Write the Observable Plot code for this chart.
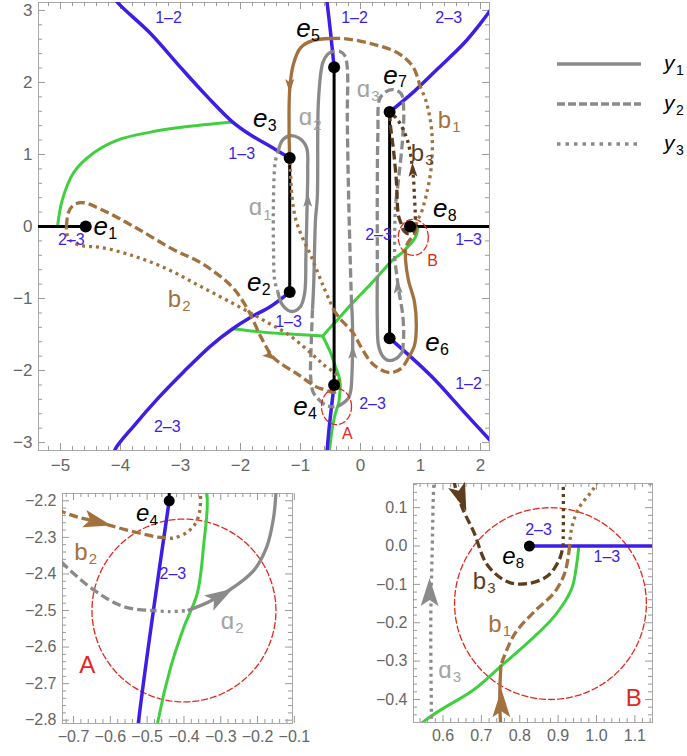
<!DOCTYPE html>
<html><head><meta charset="utf-8">
<script src="https://cdn.jsdelivr.net/npm/d3@7"></script>
<script src="https://cdn.jsdelivr.net/npm/@observablehq/plot@0.6"></script>
<style>
body{margin:0;background:#fff;}
#wrap{position:relative;width:687px;height:756px;overflow:hidden;background:#fff;font-family:"Liberation Sans",Arial,sans-serif;}
.panel{position:absolute;}
.panel svg{background:transparent;overflow:visible;}
</style></head><body><div id="wrap">
<div class="panel" id="main" style="left:0;top:0;width:500px;height:480px"></div>
<div class="panel" id="pa" style="left:0;top:480px;width:305px;height:276px"></div>
<div class="panel" id="pb" style="left:360px;top:470px;width:310px;height:286px"></div>
<svg id="legend" style="position:absolute;left:540px;top:40px" width="147" height="130" font-family="Liberation Sans, Arial, sans-serif">
 <line x1="17" x2="101" y1="24" y2="24" stroke="#8a8a8a" stroke-width="3.5"/>
 <line x1="17" x2="101" y1="64" y2="64" stroke="#8a8a8a" stroke-width="3.5" stroke-dasharray="8,3"/>
 <line x1="17" x2="101" y1="104" y2="104" stroke="#8a8a8a" stroke-width="3.5" stroke-dasharray="3.5,5"/>
 <text x="124" y="30" font-size="21" font-style="italic">y</text><text x="136" y="35" font-size="14">1</text>
 <text x="124" y="70" font-size="21" font-style="italic">y</text><text x="136" y="75" font-size="14">2</text>
 <text x="124" y="110" font-size="21" font-style="italic">y</text><text x="136" y="115" font-size="14">3</text>
</svg>
</div>
<script>
// ---------------- DATA ----------------
// tick labels
const mainXTicks = [-5,-4,-3,-2,-1,0,1,2];
const mainYTicks = [-3,-2,-1,0,1,2,3];
const aXTicks = [-0.7,-0.6,-0.5,-0.4,-0.3,-0.2,-0.1];
const aYTicks = [-2.2,-2.3,-2.4,-2.5,-2.6,-2.7,-2.8];
const bXTicks = [0.6,0.7,0.8,0.9,1.0,1.1];
const bYTicks = [0.1,0.0,-0.1,-0.2,-0.3,-0.4];

// branch points e1..e8
const branchPoints = [
  {k:"1",x:-4.58,y:0},{k:"2",x:-1.18,y:-0.91},{k:"3",x:-1.18,y:0.95},{k:"4",x:-0.44,y:-2.2},
  {k:"5",x:-0.44,y:2.21},{k:"6",x:0.485,y:-1.55},{k:"7",x:0.485,y:1.59},{k:"8",x:0.825,y:0}
];
const branchLabels = [
  {k:"1",x:-4.33,y:0.0},{k:"2",x:-1.77,y:-0.78},{k:"3",x:-1.67,y:1.5},{k:"4",x:-1.0,y:-2.5},
  {k:"5",x:-0.95,y:2.74},{k:"6",x:1.2,y:-1.61},{k:"7",x:0.5,y:2.1},{k:"8",x:1.33,y:0.25}
];

// branch cuts (black)
const cutLeft = [[-5.5,0],[-4.58,0]];
const cut32 = [[-1.18,0.95],[-1.18,-0.91]];
const cut54 = [[-0.44,2.21],[-0.44,-2.2]];
const cut76 = [[0.485,1.59],[0.485,-1.55]];
const cut8 = [[0.825,0],[2.3,0]];

// blue lines
const blueTL = [[-4.12,3.2],[-4.05,3.11],[-3.5,2.68],[-3.0,2.21],[-2.55,1.80],[-2.13,1.45],[-1.83,1.27],[-1.5,1.11],[-1.18,0.95]];
const blueTop = [[-0.44,2.21],[-0.5,2.7],[-0.57,3.2]];
const blueTR = [[0.485,1.59],[0.9,1.88],[1.3,2.2],[1.72,2.54],[2.0,2.82],[2.25,3.1]];
const blueBR = [[0.485,-1.55],[1.17,-2.07],[1.72,-2.57],[2.25,-3.05]];
const blueBL = [[-4.13,-3.2],[-4.08,-3.08],[-3.78,-2.77],[-3.38,-2.39],[-2.95,-2.02],[-2.5,-1.66],[-2.13,-1.42],[-1.83,-1.26],[-1.5,-1.11],[-1.18,-0.91]];
const blueBot = [[-0.44,-2.2],[-0.523,-2.8],[-0.565,-3.2]];
const blue8 = [[0.825,0],[1.2,0]];

// green lines
const greenTL = [[-5.05,0],[-4.97,0.37],[-4.78,0.75],[-4.45,1.02],[-4.05,1.2],[-3.5,1.31],[-2.95,1.38],[-2.13,1.45]];
const greenL = [[-2.13,-1.42],[-1.6,-1.47],[-1.05,-1.5],[-0.63,-1.52]];
const greenR = [[-0.63,-1.52],[-0.38,-1.29],[-0.12,-1.05],[0.17,-0.8],[0.55,-0.457],[0.681,-0.374],[0.751,-0.313],[0.821,-0.252],[0.891,-0.182],[0.935,-0.112],[0.948,-0.05],[0.954,0]];
const greenD = [[-0.63,-1.52],[-0.5,-1.75],[-0.42,-1.94],[-0.36,-2.08],[-0.337,-2.19],[-0.346,-2.317],[-0.364,-2.454],[-0.40,-2.545],[-0.436,-2.655],[-0.47,-2.8],[-0.53,-3.2]];

// gray paths a1, a2, a3
const a1Solid = [[-1.38,-0.9],[-1.3,-1.09],[-1.15,-1.18],[-1.0,-1.11],[-0.93,-0.92],[-0.91,-0.4],[-0.89,0.3],[-0.88,0.8],[-0.9,1.1],[-1.03,1.23],[-1.17,1.26],[-1.3,1.2],[-1.37,1.05]];
const a1Dotted = [[-1.37,1.05],[-1.42,0.9],[-1.45,0.4],[-1.45,-0.3],[-1.43,-0.75],[-1.38,-0.9]];
const a2SolidR = [[-0.39,-2.5],[-0.32,-2.47],[-0.21,-2.39],[-0.175,-2.326],[-0.157,-2.25],[-0.15,-2.18],[-0.14,-2.0],[-0.13,-1.6],[-0.14,-1.2],[-0.15,-1.07]];
const a2DashedR = [[-0.15,-1.07],[-0.17,-0.5],[-0.2,0.5],[-0.22,1.5],[-0.22,2.2],[-0.26,2.37],[-0.34,2.43],[-0.465,2.43]];
const a2SolidL = [[-0.465,2.43],[-0.55,2.39],[-0.63,2.27],[-0.7,1.76],[-0.72,0.4],[-0.75,0.1],[-0.78,-0.8],[-0.8,-1.15]];
const a2DashedL = [[-0.8,-1.15],[-0.82,-1.6],[-0.83,-2.1],[-0.79,-2.3],[-0.728,-2.372],[-0.643,-2.445],[-0.562,-2.49],[-0.482,-2.5]];
const a2Dotted = [[-0.482,-2.5],[-0.44,-2.503],[-0.39,-2.5]];
const a3DashedTop = [[0.59,0.35],[0.64,0.7],[0.7,1.2],[0.72,1.6],[0.68,1.84],[0.55,1.9],[0.42,1.87],[0.32,1.77],[0.29,1.3],[0.28,0.5],[0.28,-0.2],[0.28,-0.7]];
const a3SolidBot = [[0.28,-0.7],[0.28,-1.3],[0.3,-1.65],[0.37,-1.8],[0.47,-1.86],[0.6,-1.83],[0.7,-1.74]];
const a3DashedR = [[0.7,-1.74],[0.72,-1.5],[0.7,-1.2],[0.64,-0.9],[0.6,-0.65],[0.57,-0.45]];
const a3Dotted = [[0.57,-0.45],[0.568,-0.2],[0.572,0.0],[0.576,0.16],[0.59,0.35]];

// brown paths b1, b2 and dark brown b3
const b1SolidTop = [[-1.18,0.95],[-1.19,1.3],[-1.18,1.9],[-1.12,2.25],[-1.0,2.48],[-0.8,2.58],[-0.49,2.61]];
const b1DashedTop = [[-0.49,2.61],[-0.28,2.61],[0.17,2.54],[0.62,2.41],[0.88,2.21],[0.99,1.95]];
const b1DottedR = [[0.99,1.95],[1.1,1.72],[1.19,1.3],[1.18,0.83],[1.1,0.45],[1.0,0.163],[0.953,0.097],[0.935,0.045],[0.93,0]];
const b1DashedB = [[0.93,0],[0.918,-0.068],[0.891,-0.12],[0.839,-0.17],[0.786,-0.23],[0.751,-0.31]];
const b1SolidR = [[0.751,-0.31],[0.75,-0.46],[0.8,-0.75],[0.9,-1.05],[0.93,-1.4],[0.9,-1.65],[0.8,-1.82]];
const b1DashedBot = [[0.8,-1.82],[0.68,-1.97],[0.5,-2.03],[0.32,-1.98],[0.17,-1.88],[0.0,-1.66],[-0.12,-1.48],[-0.33,-1.29],[-0.44,-1.17]];
const b1DottedL = [[-0.44,-1.17],[-0.62,-0.83],[-0.83,-0.4],[-0.97,-0.15],[-1.08,0.1],[-1.14,0.4],[-1.17,0.8],[-1.18,0.95]];
const b2Dashed = [[-4.9,0],[-4.87,0.19],[-4.78,0.3],[-4.62,0.33],[-4.33,0.24],[-3.78,0.0],[-3.12,-0.32],[-2.67,-0.5],[-2.15,-0.83],[-1.88,-1.15],[-1.65,-1.55],[-1.45,-1.82],[-1.05,-2.05],[-0.73,-2.23],[-0.634,-2.258],[-0.535,-2.285],[-0.472,-2.299],[-0.457,-2.3]];
const b2Dotted = [[-0.457,-2.3],[-0.43,-2.302],[-0.39,-2.285],[-0.365,-2.255],[-0.355,-2.2],[-0.37,-2.1],[-0.45,-2.02],[-0.6,-1.93],[-0.72,-1.84],[-1.17,-1.52],[-1.62,-1.3],[-2.1,-1.08],[-2.67,-0.83],[-3.22,-0.59],[-3.78,-0.41],[-4.33,-0.29],[-4.62,-0.27],[-4.83,-0.2],[-4.9,-0.08],[-4.9,0]];
const b3Dashed = [[0.485,1.59],[0.5,1.4],[0.55,1.06],[0.6,0.6],[0.615,0.3],[0.629,0.167],[0.65,0.1],[0.68,0.037],[0.716,-0.05],[0.77,-0.094],[0.82,-0.098],[0.874,-0.077],[0.904,-0.033],[0.913,0]];
const b3Dotted = [[0.913,0],[0.913,0.167],[0.9,0.4],[0.87,0.79],[0.78,1.2],[0.62,1.48],[0.485,1.59]];

// red circles: centre and radius
const circleA = {cx:-0.4, cy:-2.5, r:0.25};
const circleB = {cx:0.88, cy:-0.15, r:0.25};

// arrowheads: position + direction
const mainArrows = [
  {c:"gray",x:-0.88,y:0.37,dx:0,dy:1},{c:"gray",x:-0.13,y:-1.74,dx:0,dy:1},{c:"gray",x:0.62,y:-0.83,dx:-0.1,dy:1},
  {c:"brown",x:-1.18,y:1.95,dx:0,dy:-1},{c:"brown",x:-1.5,y:-1.8,dx:1,dy:-0.6},{c:"dark",x:0.87,y:0.79,dx:-0.05,dy:1}
];
const aArrows = [{c:"brown",x:-0.634,y:-2.258,dx:1,dy:-0.25},{c:"gray",x:-0.30,y:-2.46,dx:1,dy:0.6}];
const bArrows = [{c:"gray",x:0.565,y:-0.12,dx:0,dy:1},{c:"brown",x:0.752,y:-0.41,dx:0,dy:1},{c:"dark",x:0.648,y:0.125,dx:0.37,dy:-1}];

// text labels
const mainEdgeLabels = [
  {t:"1–2",x:-3.2,y:2.9},{t:"1–3",x:-1.98,y:1.01},{t:"2–3",x:-4.82,y:-0.18},{t:"1–2",x:-0.1,y:2.89},
  {t:"2–3",x:1.47,y:2.9},{t:"2–3",x:-3.22,y:-2.78},{t:"1–3",x:-1.2,y:-1.33},{t:"2–3",x:0.2,y:-2.46},
  {t:"1–2",x:1.8,y:-2.18},{t:"2–3",x:0.3,y:-0.11},{t:"1–3",x:1.8,y:-0.18}
];
const mainPathLabels = [
  {t:"ɑ",s:"1",c:"lgray",x:-1.75,y:0.26},{t:"ɑ",s:"2",c:"lgray",x:-0.92,y:1.51},{t:"ɑ",s:"3",c:"lgray",x:0.05,y:1.9},
  {t:"b",s:"1",c:"brown",x:1.4,y:1.48},{t:"b",s:"2",c:"brown",x:-3.1,y:-1.01},{t:"b",s:"3",c:"dark",x:0.95,y:1.02}
];
const mainRegionLabels = [{t:"A",x:-0.22,y:-2.88},{t:"B",x:1.2,y:-0.48}];
const aLabels = {e:{k:"4",x:-0.512,y:-2.233}, path:[{t:"b",s:"2",c:"brown",x:-0.68,y:-2.34},{t:"ɑ",s:"2",c:"lgray",x:-0.282,y:-2.53}], edge:[{t:"2–3",x:-0.43,y:-2.4}], region:{t:"A",x:-0.663,y:-2.65}};
const bLabels = {e:{k:"8",x:0.772,y:-0.027}, path:[{t:"b",s:"3",c:"dark",x:0.695,y:-0.091},{t:"b",s:"1",c:"brown",x:0.735,y:-0.203},{t:"ɑ",s:"3",c:"lgray",x:0.605,y:-0.324}], edge:[{t:"2–3",x:0.849,y:0.041},{t:"1–3",x:1.027,y:-0.027}], region:{t:"B",x:1.097,y:-0.398}};

// ---------------- DRAWING ----------------
const COL = {blue:"#3c1ee6", green:"#3fcf3f", gray:"#8a8a8a", lgray:"#a3a3a3", brown:"#a3713d", dark:"#5e3d1e", red:"#e4261b", black:"#000"};
const FONT = "Liberation Sans, Arial, sans-serif";
const DASH = {solid: undefined, dashed: "9,4", dotted: "3,4"};

function L(pts, color, style, width) {
  return Plot.line(pts, {x: d => d[0], y: d => d[1], stroke: COL[color], strokeWidth: width,
    strokeDasharray: DASH[style], strokeLinecap: "butt", strokeLinejoin: "round", curve: "catmull-rom", clip: true});
}
function circleMark(c) {
  const pts = d3.range(0, 361, 3).map(t => [c.cx + c.r * Math.cos(t * Math.PI / 180), c.cy + c.r * Math.sin(t * Math.PI / 180)]);
  return Plot.line(pts, {x: d => d[0], y: d => d[1], stroke: COL.red, strokeWidth: 1.3, strokeDasharray: "6,3", clip: true});
}
const head = {draw(ctx, l) { const w = l * 0.32; ctx.moveTo(0, -l); ctx.lineTo(w, 0); ctx.lineTo(0, -l * 0.22); ctx.lineTo(-w, 0); ctx.closePath(); }};
function arrows(list, kx, ky, len) {
  return list.map(a => Plot.vector([a], {x: "x", y: "y", length: len, shape: head, anchor: "middle",
    rotate: d => Math.atan2(d.dx * kx, d.dy * ky) * 180 / Math.PI, fill: COL[a.c], stroke: "none"}));
}
function frameTicks(xMaj, xMin, yMaj, yMin, fw, fh, majL, minL) {
  const c = "#9a9a9a";
  const out = [];
  for (const [t, l] of [[xMaj, majL], [xMin, minL]]) {
    out.push(Plot.ruleX(t, {x: d => d, insetTop: fh - l, stroke: c, strokeWidth: 1}));
    out.push(Plot.ruleX(t, {x: d => d, insetBottom: fh - l, stroke: c, strokeWidth: 1}));
  }
  for (const [t, l] of [[yMaj, majL], [yMin, minL]]) {
    out.push(Plot.ruleY(t, {y: d => d, insetRight: fw - l, stroke: c, strokeWidth: 1}));
    out.push(Plot.ruleY(t, {y: d => d, insetLeft: fw - l, stroke: c, strokeWidth: 1}));
  }
  return out;
}
function minors(lo, hi, step, majors) {
  const n = Math.round((hi - lo) / step);
  return d3.range(n + 1).map(i => +(lo + i * step).toFixed(4)).filter(v => !majors.some(m => Math.abs(m - v) < 1e-6));
}
function subText(data, size, subSize, dx, dy, italic) {
  return [
    Plot.text(data, {x: "x", y: "y", text: d => d.t, fill: d => COL[d.c], fontSize: size, fontStyle: italic ? "italic" : "normal", fontFamily: FONT}),
    Plot.text(data, {x: "x", y: "y", text: d => d.s, fill: d => COL[d.c], fontSize: subSize, dx, dy, fontFamily: FONT})
  ];
}
function eLabels(data, size, subSize, dx, dy) {
  return [
    Plot.text(data, {x: "x", y: "y", text: () => "e", fill: "black", fontSize: size, fontStyle: "italic", fontFamily: FONT}),
    Plot.text(data, {x: "x", y: "y", text: d => d.k, fill: "black", fontSize: subSize, dx, dy, fontFamily: FONT})
  ];
}

// ---- main panel ----
const mainX = [-5.367, 2.15], mainY = [-3.11, 3.11];
const mainFW = 451, mainFH = 448;
const mainMarks = [
  Plot.frame({stroke: "#a8a8a8"}),
  ...frameTicks(mainXTicks, minors(-5.2, 2.0, 0.2, mainXTicks), mainYTicks, minors(-3.0, 3.0, 0.2, mainYTicks), mainFW, mainFH, 7, 4),
  Plot.axisX(mainXTicks, {tickSize: 0, tickPadding: 8, tickFormat: d3.format(""), label: null, fontSize: 17, fill: "#666"}),
  Plot.axisY(mainYTicks, {tickSize: 0, tickPadding: 6, tickFormat: d3.format(""), label: null, fontSize: 17, fill: "#666"}),
  L(greenTL, "green", "solid", 3), L(greenL, "green", "solid", 3), L(greenR, "green", "solid", 3), L(greenD, "green", "solid", 3),
  L(blueTL, "blue", "solid", 3.5), L(blueTop, "blue", "solid", 3.5), L(blueTR, "blue", "solid", 3.5),
  L(blueBR, "blue", "solid", 3.5), L(blueBL, "blue", "solid", 3.5), L(blueBot, "blue", "solid", 3.5),
  L(cutLeft, "black", "solid", 3), L(cut32, "black", "solid", 3), L(cut54, "black", "solid", 3), L(cut76, "black", "solid", 3), L(cut8, "black", "solid", 3),
  L(a1Solid, "gray", "solid", 3.3), L(a1Dotted, "gray", "dotted", 3.3),
  L(a2SolidR, "gray", "solid", 3.3), L(a2DashedR, "gray", "dashed", 3.3), L(a2SolidL, "gray", "solid", 3.3), L(a2DashedL, "gray", "dashed", 3.3), L(a2Dotted, "gray", "dotted", 3.3),
  L(a3DashedTop, "gray", "dashed", 3.3), L(a3SolidBot, "gray", "solid", 3.3), L(a3DashedR, "gray", "dashed", 3.3), L(a3Dotted, "gray", "dotted", 3.3),
  L(b1SolidTop, "brown", "solid", 3.3), L(b1DashedTop, "brown", "dashed", 3.3), L(b1DottedR, "brown", "dotted", 3.3), L(b1DashedB, "brown", "dashed", 3.3),
  L(b1SolidR, "brown", "solid", 3.3), L(b1DashedBot, "brown", "dashed", 3.3), L(b1DottedL, "brown", "dotted", 3.3),
  L(b2Dashed, "brown", "dashed", 3.3), L(b2Dotted, "brown", "dotted", 3.3),
  L(b3Dashed, "dark", "dashed", 3.3), L(b3Dotted, "dark", "dotted", 3.3),
  circleMark(circleA), circleMark(circleB),
  ...arrows(mainArrows, 60, 72, 14),
  Plot.dot(branchPoints, {x: "x", y: "y", r: 6, fill: "black"}),
  ...eLabels(branchLabels, 26, 16, 12, 7),
  Plot.text(mainEdgeLabels, {x: "x", y: "y", text: "t", fill: COL.blue, fontSize: 16, fontFamily: FONT}),
  ...subText(mainPathLabels, 24, 15, 12, 7, false),
  Plot.text(mainRegionLabels, {x: "x", y: "y", text: "t", fill: COL.red, fontSize: 16, fontFamily: FONT})
];
document.getElementById("main").append(Plot.plot({
  width: 500, height: 480, marginLeft: 38, marginRight: 11, marginTop: 2, marginBottom: 30,
  x: {domain: mainX, axis: null}, y: {domain: mainY, axis: null},
  style: {fontFamily: FONT, fontSize: "17px", color: "#666", background: "transparent", overflow: "visible"},
  marks: mainMarks
}));

// ---- panel A ----
const aMarks = [
  Plot.frame({stroke: "#a8a8a8"}),
  ...frameTicks(aXTicks, minors(-0.72, -0.12, 0.02, aXTicks), aYTicks, minors(-2.8, -2.2, 0.02, aYTicks), 230, 230, 7, 4),
  Plot.axisX(aXTicks, {tickSize: 0, tickPadding: 7, tickFormat: d3.format(".1f"), label: null, fontSize: 16, fill: "#666"}),
  Plot.axisY(aYTicks, {tickSize: 0, tickPadding: 6, tickFormat: d3.format(".1f"), label: null, fontSize: 16, fill: "#666"}),
  circleMark(circleA),
  L(greenD, "green", "solid", 3),
  L(blueBot, "blue", "solid", 3.5),
  L(cut54, "black", "solid", 3),
  L(a2SolidR, "gray", "solid", 3.3), L(a2DashedL, "gray", "dashed", 3.3), L(a2Dotted, "gray", "dotted", 3.3),
  L(b2Dashed, "brown", "dashed", 3.3), L(b2Dotted, "brown", "dotted", 3.3),
  ...arrows(aArrows, 367, 367, 28),
  Plot.dot([branchPoints[3]], {x: "x", y: "y", r: 5.5, fill: "black"}),
  ...eLabels([aLabels.e], 24, 15, 11, 7),
  ...subText(aLabels.path, 24, 15, 12, 7, false),
  Plot.text(aLabels.edge, {x: "x", y: "y", text: "t", fill: COL.blue, fontSize: 16, fontFamily: FONT}),
  Plot.text([aLabels.region], {x: "x", y: "y", text: "t", fill: COL.red, fontSize: 24, fontFamily: FONT})
];
document.getElementById("pa").append(Plot.plot({
  width: 305, height: 276, marginLeft: 62, marginRight: 13, marginTop: 13, marginBottom: 33,
  x: {domain: [-0.73, -0.105], axis: null}, y: {domain: [-2.809, -2.18], axis: null},
  style: {fontFamily: FONT, fontSize: "16px", color: "#666", background: "transparent", overflow: "visible"},
  marks: aMarks
}));

// ---- panel B ----
const bMarks = [
  Plot.frame({stroke: "#a8a8a8"}),
  ...frameTicks(bXTicks, minors(0.54, 1.14, 0.02, bXTicks), bYTicks, minors(-0.44, 0.16, 0.02, bYTicks), 239, 239, 7, 4),
  Plot.axisX(bXTicks, {tickSize: 0, tickPadding: 7, tickFormat: d3.format(".1f"), label: null, fontSize: 16, fill: "#666"}),
  Plot.axisY(bYTicks, {tickSize: 0, tickPadding: 6, tickFormat: d3.format(".1f"), label: null, fontSize: 16, fill: "#666"}),
  circleMark(circleB),
  L(greenR, "green", "solid", 3),
  L([[0.825,0],[1.2,0]], "blue", "solid", 3.5),
  L(a3Dotted, "gray", "dotted", 3.3),
  L(b1DashedB, "brown", "dashed", 3.3), L(b1DottedR, "brown", "dotted", 3.3), L(b1SolidR, "brown", "solid", 3.3),
  L(b3Dashed, "dark", "dashed", 3.3), L(b3Dotted, "dark", "dotted", 3.3),
  ...arrows(bArrows, 384, 384, 28),
  Plot.dot([branchPoints[7]], {x: "x", y: "y", r: 5.5, fill: "black"}),
  ...eLabels([bLabels.e], 24, 15, 11, 7),
  ...subText(bLabels.path, 24, 15, 12, 7, false),
  Plot.text(bLabels.edge, {x: "x", y: "y", text: "t", fill: COL.blue, fontSize: 16, fontFamily: FONT}),
  Plot.text([bLabels.region], {x: "x", y: "y", text: "t", fill: COL.red, fontSize: 24, fontFamily: FONT})
];
document.getElementById("pb").append(Plot.plot({
  width: 310, height: 286, marginLeft: 53, marginRight: 18, marginTop: 13, marginBottom: 34,
  x: {domain: [0.523, 1.146], axis: null}, y: {domain: [-0.46, 0.163], axis: null},
  style: {fontFamily: FONT, fontSize: "16px", color: "#666", background: "transparent", overflow: "visible"},
  marks: bMarks
}));
</script></body></html>
